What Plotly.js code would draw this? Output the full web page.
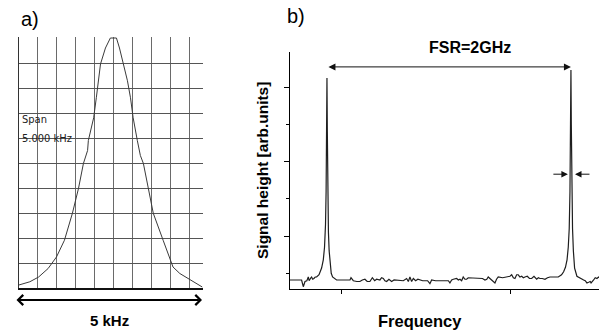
<!DOCTYPE html>
<html>
<head>
<meta charset="utf-8">
<script src="https://cdn.plot.ly/plotly-3.0.1.min.js"></script>
<style>html,body{margin:0;padding:0;background:#fff;}#chart{width:599px;height:331px;}</style>
</head>
<body>
<div id="chart"></div>
<script>
// ---- Panel a) : spectrum-analyser trace (offset from centre, kHz ; screen divisions)
const spanOffsetKHz = [-2.49,-2.20,-1.97,-1.72,-1.50,-1.29,-1.08,-0.92,-0.79,-0.68,-0.66,-0.52,-0.45,-0.34,-0.21,-0.08,0.00,0.08,0.16,0.26,0.37,0.45,0.52,0.63,0.71,0.79,0.92,1.05,1.31,1.57,1.75,1.94,2.15,2.34];
const spanSignalDiv = [0.12,0.25,0.44,0.78,1.24,1.91,2.99,3.98,4.98,5.50,5.90,6.81,7.61,8.96,9.60,10.0,10.0,10.0,9.60,8.96,8.29,7.61,6.81,5.90,5.30,4.98,3.98,2.99,1.91,0.84,0.58,0.40,0.22,0.04];

// ---- Panel b) : Fabry-Perot transmission (frequency in GHz ; arb. units)
const freqGHz = [-0.303,-0.25,-0.208,-0.194,-0.180,-0.165,-0.153,-0.146,-0.139,-0.132,-0.126,-0.117,-0.107,-0.096,-0.085,-0.065,-0.044,-0.030,-0.020,-0.012,-0.007,-0.003,0,0.003,0.007,0.012,0.018,0.025,0.035,0.046,0.079,0.150,0.189,0.197,0.216,0.245,0.270,0.290,0.311,0.330,0.352,0.372,0.391,0.407,0.420,0.434,0.448,0.462,0.475,0.489,0.508,0.530,0.550,0.571,0.600,0.626,0.653,0.667,0.680,0.694,0.708,0.727,0.745,0.762,0.785,0.803,0.825,0.844,0.858,0.890,0.926,0.960,0.995,1.008,1.022,1.036,1.063,1.077,1.090,1.104,1.117,1.131,1.145,1.158,1.172,1.190,1.213,1.233,1.254,1.275,1.295,1.310,1.322,1.336,1.350,1.364,1.377,1.390,1.404,1.440,1.486,1.500,1.514,1.528,1.541,1.555,1.568,1.582,1.596,1.610,1.623,1.642,1.660,1.678,1.697,1.719,1.733,1.746,1.765,1.787,1.808,1.828,1.860,1.896,1.923,1.940,1.955,1.968,1.978,1.986,1.992,1.997,2.000,2.003,2.008,2.013,2.020,2.030,2.049,2.063,2.076,2.090,2.104,2.117,2.131,2.145,2.158,2.165,2.172,2.186,2.199,2.213,2.227,2.235];
const signalArb = [0.41,0.41,0.41,0.32,0.39,0.40,0.45,0.40,0.43,0.44,0.45,0.42,0.43,0.45,0.45,0.48,0.57,0.68,0.85,1.15,1.60,2.40,3.12,2.40,1.60,1.05,0.80,0.62,0.50,0.45,0.41,0.41,0.41,0.44,0.40,0.39,0.39,0.41,0.42,0.39,0.39,0.44,0.40,0.42,0.41,0.41,0.44,0.43,0.40,0.39,0.42,0.39,0.41,0.41,0.40,0.40,0.43,0.39,0.45,0.39,0.43,0.40,0.42,0.41,0.40,0.40,0.40,0.36,0.41,0.40,0.40,0.41,0.40,0.37,0.41,0.42,0.43,0.41,0.42,0.40,0.45,0.42,0.42,0.44,0.44,0.43,0.43,0.43,0.43,0.43,0.41,0.42,0.45,0.43,0.41,0.40,0.37,0.42,0.45,0.44,0.45,0.46,0.48,0.44,0.43,0.48,0.48,0.45,0.46,0.44,0.45,0.46,0.43,0.43,0.46,0.42,0.44,0.43,0.43,0.42,0.44,0.45,0.45,0.45,0.48,0.52,0.58,0.68,0.85,1.10,1.60,2.50,3.23,2.50,1.60,1.10,0.80,0.57,0.46,0.45,0.43,0.43,0.41,0.40,0.37,0.38,0.39,0.37,0.38,0.41,0.44,0.43,0.45,0.44];

const freqTickVals = [0.123, 1.508];
const fsrGHz = 2;
const fsrArrowLevel = 3.27;
const fwhmLevel = 1.83;
const fwhmEdges = [1.975, 2.033];

const W = 599, H = 331;
const px = v => v / W;
const py = v => 1 - v / H;
const FONT = 'Liberation Sans, Arial, sans-serif';
const SCREEN_FONT = 'DejaVu Sans Condensed, Liberation Sans Narrow, Arial Narrow, DejaVu Sans, sans-serif';

const traces = [
  {x: spanOffsetKHz, y: spanSignalDiv, xaxis: 'x', yaxis: 'y', mode: 'lines',
   line: {color: '#3a3a3a', width: 1}, hoverinfo: 'skip'},
  {x: freqGHz, y: signalArb, xaxis: 'x2', yaxis: 'y2', mode: 'lines',
   line: {color: '#1e1e1e', width: 1.2}, hoverinfo: 'skip'}
];

const layout = {
  width: W, height: H,
  margin: {l: 0, r: 0, t: 0, b: 0},
  paper_bgcolor: '#fff', plot_bgcolor: 'rgba(0,0,0,0)',
  showlegend: false,
  font: {family: FONT, color: '#000'},
  xaxis: {domain: [px(18.5), px(203)], range: [-2.5, 2.36], anchor: 'y',
    showgrid: true, gridcolor: '#6a6a6a', gridwidth: 1, tick0: -2.5, dtick: 0.5,
    zeroline: false, showticklabels: false, ticks: '',
    showline: true, linecolor: '#111', linewidth: 2},
  yaxis: {domain: [py(288), py(37)], range: [0, 10.04], anchor: 'x',
    showgrid: true, gridcolor: '#555', gridwidth: 1, tick0: 0, dtick: 1,
    zeroline: false, showticklabels: false, ticks: '',
    showline: true, linecolor: '#333', linewidth: 1},
  xaxis2: {domain: [px(290), 1], range: [-0.303, 2.23], anchor: 'y2',
    showgrid: false, zeroline: false, showticklabels: false,
    tickmode: 'array', tickvals: freqTickVals, ticks: 'outside', ticklen: 4, tickcolor: '#000', tickwidth: 1,
    showline: true, linecolor: '#000', linewidth: 1},
  yaxis2: {domain: [py(289), py(52)], range: [0.289, 3.47], anchor: 'x2',
    showgrid: false, zeroline: false, showticklabels: false,
    tick0: 0, dtick: 1, ticks: 'outside', ticklen: 5, tickcolor: '#000', tickwidth: 1,
    minor: {tick0: 0.5, dtick: 1, ticks: 'outside', ticklen: 3, tickcolor: '#000', tickwidth: 1},
    showline: true, linecolor: '#000', linewidth: 1},
  annotations: [
    {text: 'a)', xref: 'paper', yref: 'paper', x: px(19), y: py(19), xanchor: 'left', yanchor: 'middle',
     showarrow: false, font: {size: 20, family: FONT}},
    {text: 'b)', xref: 'paper', yref: 'paper', x: px(285), y: py(16), xanchor: 'left', yanchor: 'middle',
     showarrow: false, font: {size: 20, family: FONT}},
    {text: 'Span', xref: 'paper', yref: 'paper', x: px(20), y: py(119), xanchor: 'left', yanchor: 'middle',
     showarrow: false, font: {size: 11, family: SCREEN_FONT, color: '#222'}},
    {text: '5.000 kHz', xref: 'paper', yref: 'paper', x: px(20), y: py(138), xanchor: 'left', yanchor: 'middle',
     showarrow: false, font: {size: 11, family: SCREEN_FONT, color: '#222'}},
    {text: '<b>5 kHz</b>', xref: 'paper', yref: 'paper', x: px(110), y: py(320), xanchor: 'center', yanchor: 'middle',
     showarrow: false, font: {size: 15, family: FONT}},
    {text: '', xref: 'paper', yref: 'paper', x: px(202), y: py(300), ax: -187, ay: 0,
     showarrow: true, arrowside: 'end+start', arrowhead: 4, startarrowhead: 4,
     arrowsize: 0.9, startarrowsize: 0.9, arrowwidth: 2.2, arrowcolor: '#000', standoff: 0, startstandoff: 0},
    {text: '<b>FSR=2GHz</b>', xref: 'paper', yref: 'paper', x: px(470), y: py(47.5), xanchor: 'center', yanchor: 'middle',
     showarrow: false, font: {size: 16, family: FONT}},
    {text: '', xref: 'x2', yref: 'y2', x: fsrGHz, y: fsrArrowLevel, axref: 'x2', ayref: 'y2', ax: 0, ay: fsrArrowLevel,
     showarrow: true, arrowside: 'end+start', arrowhead: 2, startarrowhead: 2,
     arrowsize: 1.4, startarrowsize: 1.4, arrowwidth: 1, arrowcolor: '#111', standoff: 0, startstandoff: 0},
    {text: '', xref: 'x2', yref: 'y2', x: fwhmEdges[0], y: fwhmLevel, ax: -16, ay: 0,
     showarrow: true, arrowhead: 2, arrowsize: 1.3, arrowwidth: 1, arrowcolor: '#111', standoff: 0},
    {text: '', xref: 'x2', yref: 'y2', x: fwhmEdges[1], y: fwhmLevel, ax: 16, ay: 0,
     showarrow: true, arrowhead: 2, arrowsize: 1.3, arrowwidth: 1, arrowcolor: '#111', standoff: 0},
    {text: '<b>Signal height [arb.units]</b>', xref: 'paper', yref: 'paper', x: px(262), y: py(171), textangle: -90,
     xanchor: 'center', yanchor: 'middle', showarrow: false, font: {size: 15.5, family: FONT}},
    {text: '<b>Frequency</b>', xref: 'paper', yref: 'paper', x: px(420), y: py(321), xanchor: 'center', yanchor: 'middle',
     showarrow: false, font: {size: 16.5, family: FONT}}
  ]
};

Plotly.newPlot('chart', traces, layout, {staticPlot: true, displayModeBar: false});
</script>
</body>
</html>
